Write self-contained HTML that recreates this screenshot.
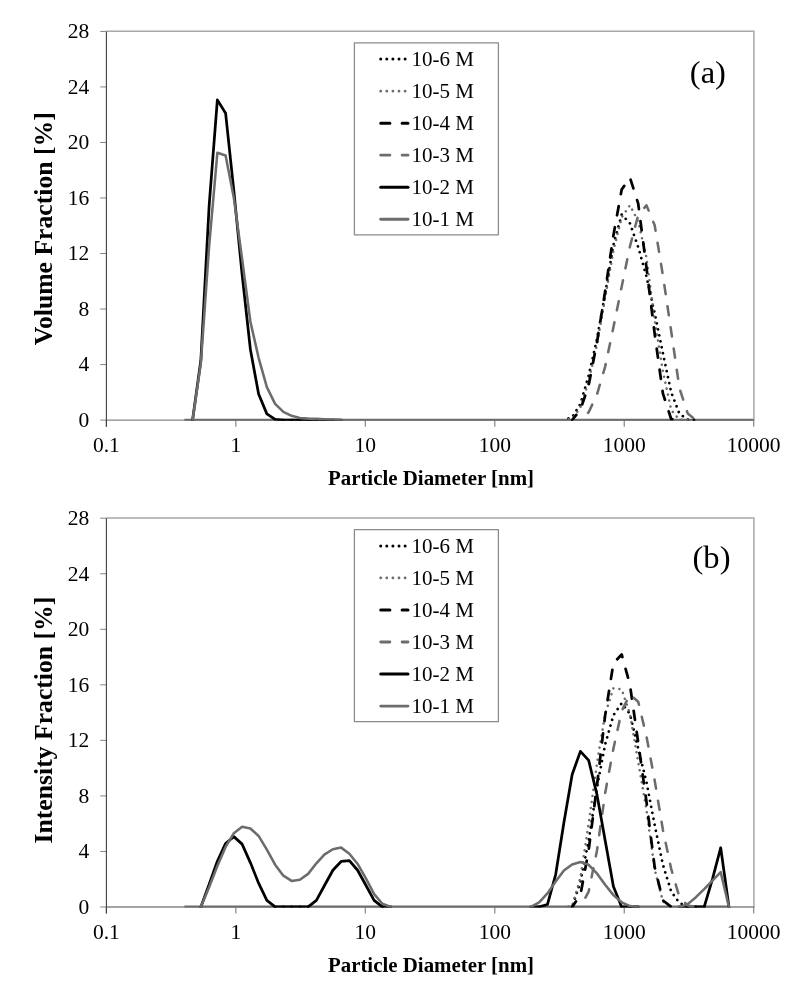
<!DOCTYPE html>
<html><head><meta charset="utf-8"><title>Particle size distributions</title>
<style>
html,body{margin:0;padding:0;background:#fff;overflow:hidden;}
svg{display:block}
text{font-family:"Liberation Serif","Times New Roman",serif;fill:#000}
.t{font-size:21.5px}
.lg{font-size:21px}
.tag{font-size:32.6px}
.b{font-size:20.9px;font-weight:bold}
.by{font-size:25.7px;font-weight:bold}
</style></head><body>
<svg width="803" height="1000" viewBox="0 0 803 1000">
<rect width="803" height="1000" fill="#fff"/>
<polyline points="106.4,31.30 753.9,31.30 753.9,420.1" fill="none" stroke="#a8a8a8" stroke-width="1.5"/>
<line x1="106.4" y1="420.1" x2="754.4" y2="420.1" stroke="#868686" stroke-width="1.3"/>
<line x1="100.2" y1="420.10" x2="106.4" y2="420.10" stroke="#868686" stroke-width="1"/>
<text x="89.3" y="426.90" text-anchor="end" class="t">0</text>
<line x1="100.2" y1="364.57" x2="106.4" y2="364.57" stroke="#868686" stroke-width="1"/>
<text x="89.3" y="371.37" text-anchor="end" class="t">4</text>
<line x1="100.2" y1="309.04" x2="106.4" y2="309.04" stroke="#868686" stroke-width="1"/>
<text x="89.3" y="315.84" text-anchor="end" class="t">8</text>
<line x1="100.2" y1="253.51" x2="106.4" y2="253.51" stroke="#868686" stroke-width="1"/>
<text x="89.3" y="260.31" text-anchor="end" class="t">12</text>
<line x1="100.2" y1="197.99" x2="106.4" y2="197.99" stroke="#868686" stroke-width="1"/>
<text x="89.3" y="204.79" text-anchor="end" class="t">16</text>
<line x1="100.2" y1="142.46" x2="106.4" y2="142.46" stroke="#868686" stroke-width="1"/>
<text x="89.3" y="149.26" text-anchor="end" class="t">20</text>
<line x1="100.2" y1="86.93" x2="106.4" y2="86.93" stroke="#868686" stroke-width="1"/>
<text x="89.3" y="93.73" text-anchor="end" class="t">24</text>
<line x1="100.2" y1="31.40" x2="106.4" y2="31.40" stroke="#868686" stroke-width="1"/>
<text x="89.3" y="38.20" text-anchor="end" class="t">28</text>
<line x1="106.40" y1="420.1" x2="106.40" y2="426.70000000000005" stroke="#868686" stroke-width="1.2"/>
<text x="106.40" y="452.40" text-anchor="middle" class="t">0.1</text>
<line x1="235.86" y1="420.1" x2="235.86" y2="426.70000000000005" stroke="#868686" stroke-width="1.2"/>
<text x="235.86" y="452.40" text-anchor="middle" class="t">1</text>
<line x1="365.32" y1="420.1" x2="365.32" y2="426.70000000000005" stroke="#868686" stroke-width="1.2"/>
<text x="365.32" y="452.40" text-anchor="middle" class="t">10</text>
<line x1="494.78" y1="420.1" x2="494.78" y2="426.70000000000005" stroke="#868686" stroke-width="1.2"/>
<text x="494.78" y="452.40" text-anchor="middle" class="t">100</text>
<line x1="624.24" y1="420.1" x2="624.24" y2="426.70000000000005" stroke="#868686" stroke-width="1.2"/>
<text x="624.24" y="452.40" text-anchor="middle" class="t">1000</text>
<line x1="753.70" y1="420.1" x2="753.70" y2="426.70000000000005" stroke="#868686" stroke-width="1.2"/>
<text x="753.70" y="452.40" text-anchor="middle" class="t">10000</text>
<line x1="106.4" y1="31.4" x2="106.4" y2="426.70000000000005" stroke="#404040" stroke-width="1.1"/>
<clipPath id="ca"><rect x="106.4" y="21.4" width="647.3000000000001" height="399.30000000000007"/></clipPath>
<g clip-path="url(#ca)">
<line x1="184.34" y1="420.00" x2="753.70" y2="420.00" stroke="#6c6c6c" stroke-width="2.75"/>
<line x1="283.36" y1="420.00" x2="291.61" y2="420.00" stroke="#000" stroke-width="2.75" stroke-linecap="round"/>
<line x1="291.61" y1="420.00" x2="299.86" y2="420.00" stroke="#000" stroke-width="2.75" stroke-linecap="round"/>
<line x1="299.86" y1="420.00" x2="308.12" y2="420.00" stroke="#000" stroke-width="2.75" stroke-linecap="round"/>
<line x1="308.12" y1="420.00" x2="316.37" y2="420.00" stroke="#000" stroke-width="2.75" stroke-linecap="round"/>
<line x1="316.37" y1="420.00" x2="324.62" y2="420.00" stroke="#000" stroke-width="2.75" stroke-linecap="round"/>
<line x1="324.62" y1="420.00" x2="332.87" y2="420.00" stroke="#000" stroke-width="2.75" stroke-linecap="round"/>
<line x1="332.87" y1="420.00" x2="341.12" y2="420.00" stroke="#000" stroke-width="2.75" stroke-linecap="round"/>
<polyline points="563.91,420.00 572.17,417.22 580.42,404.04 588.67,375.58 596.92,339.48 605.17,293.67 613.42,245.09 621.68,214.54 629.93,223.29 638.18,247.03 646.43,276.46 654.68,313.11 662.93,353.37 671.18,392.24 679.44,413.75 687.69,419.58 695.94,420.00" fill="none" stroke="#000" stroke-width="2.75" stroke-linejoin="round" stroke-dasharray="0.01 6.09" stroke-dashoffset="1.37" stroke-linecap="round"/>
<polyline points="563.91,420.00 572.17,418.61 580.42,407.51 588.67,381.13 596.92,345.04 605.17,297.84 613.42,250.64 621.68,217.32 629.93,205.24 638.18,221.49 646.43,257.58 654.68,320.05 662.93,371.41 671.18,410.00 679.44,419.72 687.69,420.00" fill="none" stroke="#6c6c6c" stroke-width="2.55" stroke-linejoin="round" stroke-dasharray="0.01 6.09" stroke-dashoffset="1.37" stroke-linecap="round"/>
<polyline points="572.17,420.00 580.42,409.73 588.67,385.29 596.92,342.82 605.17,291.17 613.42,235.37 621.68,189.56 629.93,177.62 638.18,203.44 646.43,267.30 654.68,333.93 662.93,393.62 671.18,419.03 679.44,420.00" fill="none" stroke="#000" stroke-width="2.75" stroke-linejoin="round" stroke-dasharray="9.2 12.2" stroke-dashoffset="2.62" stroke-linecap="round"/>
<polyline points="580.42,420.00 588.67,412.23 596.92,394.73 605.17,366.55 613.42,327.27 621.68,286.73 629.93,246.47 638.18,215.24 646.43,205.24 654.68,225.23 662.93,275.63 671.18,331.15 679.44,388.07 687.69,413.48 695.94,420.00" fill="none" stroke="#6c6c6c" stroke-width="2.55" stroke-linejoin="round" stroke-dasharray="9.2 12.2" stroke-dashoffset="10.87" stroke-linecap="round"/>
<polyline points="192.59,420.00 200.85,360.31 209.10,206.21 217.35,99.88 225.60,113.20 233.85,190.94 242.10,274.24 250.36,349.20 258.61,394.04 266.86,413.89 275.11,419.31 283.36,420.00" fill="none" stroke="#000" stroke-width="2.75" stroke-linejoin="round" stroke-linecap="round"/>
<polyline points="192.59,420.00 200.85,363.08 209.10,246.47 217.35,152.77 225.60,155.55 233.85,197.89 242.10,258.97 250.36,321.44 258.61,357.81 266.86,387.10 275.11,403.90 283.36,411.95 291.61,415.84 299.86,417.92 308.12,418.61 316.37,418.89 324.62,419.31 332.87,419.58 341.12,420.00" fill="none" stroke="#6c6c6c" stroke-width="2.55" stroke-linejoin="round" stroke-linecap="round"/>
</g>
<rect x="354.4" y="42.75" width="144" height="192.05" fill="#fff" stroke="#8a8a8a" stroke-width="1.25" stroke-linejoin="round"/>
<line x1="380.7" y1="59.10" x2="408.0" y2="59.10" stroke="#000" stroke-width="3" stroke-dasharray="0.01 6.09" stroke-linecap="round"/>
<text x="411.5" y="65.90" class="lg">10-6 M</text>
<line x1="380.7" y1="91.13" x2="408.0" y2="91.13" stroke="#6c6c6c" stroke-width="2.8" stroke-dasharray="0.01 6.09" stroke-linecap="round"/>
<text x="411.5" y="97.93" class="lg">10-5 M</text>
<line x1="380.7" y1="123.16" x2="408.0" y2="123.16" stroke="#000" stroke-width="3" stroke-dasharray="9.2 12.2" stroke-linecap="round"/>
<text x="411.5" y="129.96" class="lg">10-4 M</text>
<line x1="380.7" y1="155.19" x2="408.0" y2="155.19" stroke="#6c6c6c" stroke-width="2.8" stroke-dasharray="9.2 12.2" stroke-linecap="round"/>
<text x="411.5" y="161.99" class="lg">10-3 M</text>
<line x1="380.7" y1="187.22" x2="408.0" y2="187.22" stroke="#000" stroke-width="3" stroke-linecap="round"/>
<text x="411.5" y="194.02" class="lg">10-2 M</text>
<line x1="380.7" y1="219.25" x2="408.0" y2="219.25" stroke="#6c6c6c" stroke-width="2.8" stroke-linecap="round"/>
<text x="411.5" y="226.05" class="lg">10-1 M</text>
<text x="707.9" y="82.80" text-anchor="middle" class="tag">(a)</text>
<text x="431" y="484.90" text-anchor="middle" class="b">Particle Diameter [nm]</text>
<text transform="translate(51.6,228.75) rotate(-90)" text-anchor="middle" class="by">Volume Fraction [%]</text>
<polyline points="106.4,518.10 753.9,518.10 753.9,907.0" fill="none" stroke="#a8a8a8" stroke-width="1.5"/>
<line x1="106.4" y1="907.0" x2="754.4" y2="907.0" stroke="#868686" stroke-width="1.3"/>
<line x1="100.2" y1="907.00" x2="106.4" y2="907.00" stroke="#868686" stroke-width="1"/>
<text x="89.3" y="913.80" text-anchor="end" class="t">0</text>
<line x1="100.2" y1="851.46" x2="106.4" y2="851.46" stroke="#868686" stroke-width="1"/>
<text x="89.3" y="858.26" text-anchor="end" class="t">4</text>
<line x1="100.2" y1="795.91" x2="106.4" y2="795.91" stroke="#868686" stroke-width="1"/>
<text x="89.3" y="802.71" text-anchor="end" class="t">8</text>
<line x1="100.2" y1="740.37" x2="106.4" y2="740.37" stroke="#868686" stroke-width="1"/>
<text x="89.3" y="747.17" text-anchor="end" class="t">12</text>
<line x1="100.2" y1="684.83" x2="106.4" y2="684.83" stroke="#868686" stroke-width="1"/>
<text x="89.3" y="691.63" text-anchor="end" class="t">16</text>
<line x1="100.2" y1="629.29" x2="106.4" y2="629.29" stroke="#868686" stroke-width="1"/>
<text x="89.3" y="636.09" text-anchor="end" class="t">20</text>
<line x1="100.2" y1="573.74" x2="106.4" y2="573.74" stroke="#868686" stroke-width="1"/>
<text x="89.3" y="580.54" text-anchor="end" class="t">24</text>
<line x1="100.2" y1="518.20" x2="106.4" y2="518.20" stroke="#868686" stroke-width="1"/>
<text x="89.3" y="525.00" text-anchor="end" class="t">28</text>
<line x1="106.40" y1="907.0" x2="106.40" y2="913.6" stroke="#868686" stroke-width="1.2"/>
<text x="106.40" y="939.30" text-anchor="middle" class="t">0.1</text>
<line x1="235.86" y1="907.0" x2="235.86" y2="913.6" stroke="#868686" stroke-width="1.2"/>
<text x="235.86" y="939.30" text-anchor="middle" class="t">1</text>
<line x1="365.32" y1="907.0" x2="365.32" y2="913.6" stroke="#868686" stroke-width="1.2"/>
<text x="365.32" y="939.30" text-anchor="middle" class="t">10</text>
<line x1="494.78" y1="907.0" x2="494.78" y2="913.6" stroke="#868686" stroke-width="1.2"/>
<text x="494.78" y="939.30" text-anchor="middle" class="t">100</text>
<line x1="624.24" y1="907.0" x2="624.24" y2="913.6" stroke="#868686" stroke-width="1.2"/>
<text x="624.24" y="939.30" text-anchor="middle" class="t">1000</text>
<line x1="753.70" y1="907.0" x2="753.70" y2="913.6" stroke="#868686" stroke-width="1.2"/>
<text x="753.70" y="939.30" text-anchor="middle" class="t">10000</text>
<line x1="106.4" y1="518.2" x2="106.4" y2="913.6" stroke="#404040" stroke-width="1.1"/>
<clipPath id="cb"><rect x="106.4" y="508.20000000000005" width="647.3000000000001" height="399.4"/></clipPath>
<g clip-path="url(#cb)">
<line x1="184.34" y1="906.90" x2="728.95" y2="906.90" stroke="#6c6c6c" stroke-width="2.75"/>
<line x1="275.11" y1="906.90" x2="283.36" y2="906.90" stroke="#000" stroke-width="2.75" stroke-linecap="round"/>
<line x1="283.36" y1="906.90" x2="291.61" y2="906.90" stroke="#000" stroke-width="2.75" stroke-linecap="round"/>
<line x1="291.61" y1="906.90" x2="299.86" y2="906.90" stroke="#000" stroke-width="2.75" stroke-linecap="round"/>
<line x1="299.86" y1="906.90" x2="308.12" y2="906.90" stroke="#000" stroke-width="2.75" stroke-linecap="round"/>
<line x1="382.38" y1="906.90" x2="390.63" y2="906.90" stroke="#000" stroke-width="2.75" stroke-linecap="round"/>
<line x1="530.91" y1="906.90" x2="539.16" y2="906.90" stroke="#000" stroke-width="2.75" stroke-linecap="round"/>
<line x1="621.68" y1="906.90" x2="629.93" y2="906.90" stroke="#000" stroke-width="2.75" stroke-linecap="round"/>
<line x1="629.93" y1="906.90" x2="638.18" y2="906.90" stroke="#000" stroke-width="2.75" stroke-linecap="round"/>
<line x1="679.44" y1="906.90" x2="687.69" y2="906.90" stroke="#000" stroke-width="2.75" stroke-linecap="round"/>
<line x1="687.69" y1="906.90" x2="695.94" y2="906.90" stroke="#000" stroke-width="2.75" stroke-linecap="round"/>
<line x1="695.94" y1="906.90" x2="704.19" y2="906.90" stroke="#000" stroke-width="2.75" stroke-linecap="round"/>
<polyline points="572.17,906.90 580.42,882.04 588.67,840.53 596.92,787.48 605.17,744.44 613.42,715.28 621.68,703.20 629.93,713.89 638.18,748.60 646.43,781.93 654.68,825.11 662.93,864.83 671.18,891.49 679.44,902.87 687.69,906.90" fill="none" stroke="#000" stroke-width="2.75" stroke-linejoin="round" stroke-dasharray="0.01 6.09" stroke-dashoffset="3.52" stroke-linecap="round"/>
<polyline points="563.91,906.90 572.17,906.21 580.42,877.74 588.67,823.59 596.92,763.88 605.17,713.89 613.42,688.34 621.68,689.31 629.93,713.89 638.18,761.66 646.43,809.70 654.68,869.41 662.93,901.35 671.18,906.90" fill="none" stroke="#6c6c6c" stroke-width="2.55" stroke-linejoin="round" stroke-dasharray="0.01 6.09" stroke-dashoffset="1.37" stroke-linecap="round"/>
<polyline points="572.17,906.90 580.42,894.96 588.67,850.11 596.92,786.09 605.17,715.28 613.42,663.21 621.68,654.46 629.93,684.73 638.18,742.35 646.43,801.37 654.68,867.19 662.93,900.37 671.18,906.90" fill="none" stroke="#000" stroke-width="2.75" stroke-linejoin="round" stroke-dasharray="9.2 12.2" stroke-dashoffset="2.62" stroke-linecap="round"/>
<polyline points="580.42,906.90 588.67,891.63 596.92,850.94 605.17,793.04 613.42,748.60 621.68,711.11 629.93,694.45 638.18,701.67 646.43,736.11 654.68,780.54 662.93,829.97 671.18,868.85 679.44,897.18 687.69,905.51 695.94,906.90" fill="none" stroke="#6c6c6c" stroke-width="2.55" stroke-linejoin="round" stroke-dasharray="9.2 12.2" stroke-dashoffset="10.87" stroke-linecap="round"/>
<polyline points="200.85,906.90 209.10,884.54 217.35,861.22 225.60,843.44 233.85,836.64 242.10,844.14 250.36,862.60 258.61,883.16 266.86,900.37 275.11,906.90" fill="none" stroke="#000" stroke-width="2.75" stroke-linejoin="round" stroke-linecap="round"/>
<polyline points="308.12,906.90 316.37,900.37 324.62,885.24 332.87,870.24 341.12,861.49 349.37,860.52 357.63,870.24 365.88,885.24 374.13,900.37 382.38,906.90" fill="none" stroke="#000" stroke-width="2.75" stroke-linejoin="round" stroke-linecap="round"/>
<polyline points="539.16,906.90 547.41,904.54 555.66,874.55 563.91,822.47 572.17,774.43 580.42,751.38 588.67,760.41 596.92,794.43 605.17,840.53 613.42,886.49 621.68,906.90" fill="none" stroke="#000" stroke-width="2.75" stroke-linejoin="round" stroke-linecap="round"/>
<polyline points="704.19,906.90 712.44,879.13 720.69,847.75 728.95,906.90" fill="none" stroke="#000" stroke-width="2.75" stroke-linejoin="round" stroke-linecap="round"/>
<polyline points="200.85,906.90 209.10,887.32 217.35,866.08 225.60,846.91 233.85,833.17 242.10,826.78 250.36,828.45 258.61,835.94 266.86,849.69 275.11,864.69 283.36,875.66 291.61,880.93 299.86,879.82 308.12,873.85 316.37,863.30 324.62,854.41 332.87,849.27 341.12,847.61 349.37,853.72 357.63,863.99 365.88,878.43 374.13,894.13 382.38,903.71 390.63,906.90" fill="none" stroke="#6c6c6c" stroke-width="2.55" stroke-linejoin="round" stroke-linecap="round"/>
<polyline points="530.91,906.90 539.16,902.46 547.41,893.43 555.66,881.49 563.91,870.52 572.17,864.55 580.42,862.05 588.67,864.83 596.92,873.44 605.17,884.68 613.42,895.10 621.68,902.32 629.93,906.07 638.18,906.90" fill="none" stroke="#6c6c6c" stroke-width="2.55" stroke-linejoin="round" stroke-linecap="round"/>
<polyline points="679.44,906.90 687.69,904.12 695.94,897.18 704.19,889.13 712.44,880.52 720.69,872.19 728.95,906.90" fill="none" stroke="#6c6c6c" stroke-width="2.55" stroke-linejoin="round" stroke-linecap="round"/>
</g>
<rect x="354.4" y="529.5500000000001" width="144" height="192.05" fill="#fff" stroke="#8a8a8a" stroke-width="1.25" stroke-linejoin="round"/>
<line x1="380.7" y1="545.90" x2="408.0" y2="545.90" stroke="#000" stroke-width="3" stroke-dasharray="0.01 6.09" stroke-linecap="round"/>
<text x="411.5" y="552.70" class="lg">10-6 M</text>
<line x1="380.7" y1="577.93" x2="408.0" y2="577.93" stroke="#6c6c6c" stroke-width="2.8" stroke-dasharray="0.01 6.09" stroke-linecap="round"/>
<text x="411.5" y="584.73" class="lg">10-5 M</text>
<line x1="380.7" y1="609.96" x2="408.0" y2="609.96" stroke="#000" stroke-width="3" stroke-dasharray="9.2 12.2" stroke-linecap="round"/>
<text x="411.5" y="616.76" class="lg">10-4 M</text>
<line x1="380.7" y1="641.99" x2="408.0" y2="641.99" stroke="#6c6c6c" stroke-width="2.8" stroke-dasharray="9.2 12.2" stroke-linecap="round"/>
<text x="411.5" y="648.79" class="lg">10-3 M</text>
<line x1="380.7" y1="674.02" x2="408.0" y2="674.02" stroke="#000" stroke-width="3" stroke-linecap="round"/>
<text x="411.5" y="680.82" class="lg">10-2 M</text>
<line x1="380.7" y1="706.05" x2="408.0" y2="706.05" stroke="#6c6c6c" stroke-width="2.8" stroke-linecap="round"/>
<text x="411.5" y="712.85" class="lg">10-1 M</text>
<text x="711.5" y="567.80" text-anchor="middle" class="tag">(b)</text>
<text x="431" y="971.80" text-anchor="middle" class="b">Particle Diameter [nm]</text>
<text transform="translate(51.6,720.10) rotate(-90)" text-anchor="middle" class="by">Intensity Fraction [%]</text>
</svg>
</body></html>
